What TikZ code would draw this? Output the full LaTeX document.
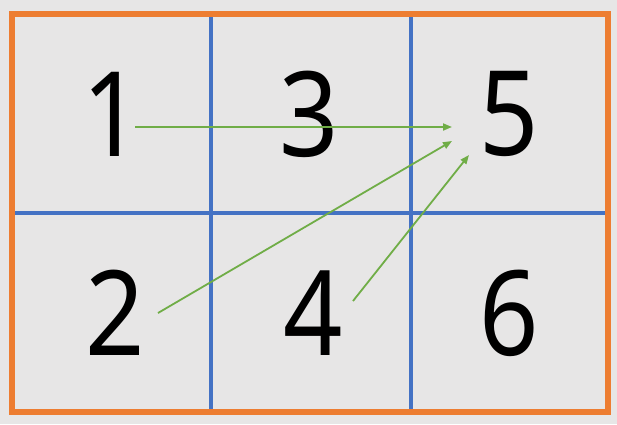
\documentclass[tikz,border=0pt]{standalone}
\usepackage{fontspec}
\usepackage{graphicx}
\setmainfont{Noto Sans}
\usetikzlibrary{arrows.meta}
\definecolor{cellgray}{HTML}{E7E6E6}
\definecolor{frameorange}{HTML}{ED7D31}
\definecolor{gridblue}{HTML}{4472C4}
\definecolor{arrowgreen}{HTML}{70AD47}
\newcommand{\cellnum}[1]{\scalebox{0.88}[1]{#1}}
\begin{document}
\begin{tikzpicture}[x=1pt, y=-1pt,
    digit/.style={inner sep=0pt, font=\fontsize{118}{118}\selectfont},
    grid/.style={gridblue, line width=3.5pt},
    jump/.style={arrowgreen, line width=1.8pt, -{Triangle[length=9pt, width=7pt]}}]
    \fill[cellgray] (0,0) rectangle (617,424);
    \useasboundingbox (0,0) rectangle (617,424);

    \draw[grid] (211,14) -- (211,412);
    \draw[grid] (411,14) -- (411,412);
    \draw[grid] (11.5,213) -- (607.5,213);
    \draw[frameorange, line width=6pt] (11.5,14) rectangle (607.5,412);

    \node[digit] (n1) at (112,114) {\cellnum{1}};
    \node[digit] (n3) at (309,114) {\cellnum{3}};
    \node[digit] (n5) at (509,114) {\cellnum{5}};
    \node[digit] (n2) at (115,313) {\cellnum{2}};
    \node[digit] (n4) at (313,313) {\cellnum{4}};
    \node[digit] (n6) at (509,313) {\cellnum{6}};

    % arrow ends
    \coordinate (s1) at (135,127);
    \coordinate (e1) at (452,127);
    \coordinate (s2) at (158,313);
    \coordinate (e2) at (452,141);
    \coordinate (s4) at (353,301);
    \coordinate (e4) at (469,155);

    \draw[jump] (s1) -- (e1);
    \draw[jump] (s2) -- (e2);
    \draw[jump] (s4) -- (e4);
\end{tikzpicture}
\end{document}
